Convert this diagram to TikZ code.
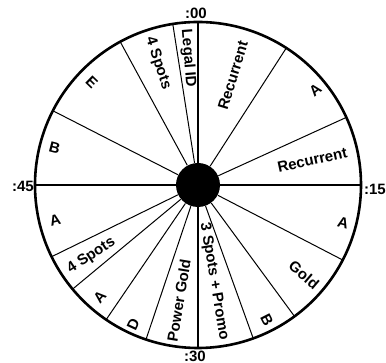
\documentclass[tikz,border=0pt]{standalone}
\usepackage{fontspec}
\setmainfont{Liberation Sans}
\begin{document}
\begin{tikzpicture}[
        x=0.5pt, y=0.5pt,
        l/.style={font=\fontsize{7.5}{8}\selectfont\bfseries, inner sep=0pt},
        m/.style={font=\fontsize{7.5}{8}\selectfont\bfseries, inner sep=0pt},
        q/.style={line width=1.3pt},
        r/.style={line width=0.5pt}
    ]
    \useasboundingbox (-198,-178) rectangle (188,185);

    % clock face
    \draw[q] (0,0) circle (163);
    \node[circle,fill=black,minimum size=22pt,inner sep=0pt] (hub) at (0,0) {};

    \coordinate (n) at (90:163);
    \coordinate (e) at (0:163);
    \coordinate (s) at (270:163);
    \coordinate (w) at (180:163);

    \coordinate (c1) at (57.2:163);
    \coordinate (c2) at (24.5:163);
    \coordinate (c3) at (-27.4:163);
    \coordinate (c4) at (-53.7:163);
    \coordinate (c5) at (-70.2:163);
    \coordinate (c6) at (251.4:163);
    \coordinate (c7) at (235.7:163);
    \coordinate (c8) at (219.7:163);
    \coordinate (c9) at (206.1:163);
    \coordinate (c10) at (152.9:163);
    \coordinate (c11) at (118.5:163);
    \coordinate (c12) at (98.9:163);

    \draw[q]
        (hub) -- (n)
        (hub) -- (e)
        (hub) -- (s)
        (hub) -- (w)
        ;
    \draw[r]
        (hub) -- (c1) (hub) -- (c2) (hub) -- (c3) (hub) -- (c4)
        (hub) -- (c5) (hub) -- (c6) (hub) -- (c7) (hub) -- (c8)
        (hub) -- (c9) (hub) -- (c10) (hub) -- (c11) (hub) -- (c12)
        ;

    % minute marks
    \node[m] (t00) at (-2,172) {:00};
    \node[m] (t15) at (177,-4) {:15};
    \node[m] (t30) at (-3,-171) {:30};
    \node[m] (t45) at (-175,-1) {:45};

    % spots
    \node[l,rotate=-85.5] (legal) at (94.5:127) {Legal ID};
    \node[l,rotate=-71.8] (spotsa) at (108.2:128) {4 Spots};
    \node[l,rotate=73] (recura) at (72.3:115) {Recurrent};
    \node[l,rotate=39] (aa) at (39:151) {A};
    \node[l,rotate=12.4] (recurb) at (12.4:117) {Recurrent};
    \node[l,rotate=-14.7] (ab) at (-14.7:150) {A};
    \node[l,rotate=-40.3] (gold) at (-40.3:139) {Gold};
    \node[l,rotate=-63] (ba) at (-63:152) {B};
    \node[l,rotate=-80.6] (promo) at (-80.6:98) {3 Spots + Promo};
    \node[l,rotate=80.6] (power) at (260.6:117) {Power Gold};
    \node[l,rotate=65] (d) at (245.1:154) {D};
    \node[l,rotate=48.8] (ac) at (228.8:149) {A};
    \node[l,rotate=33.6] (spotsb) at (213.6:128) {4 Spots};
    \node[l,rotate=13.8] (ad) at (193.8:147) {A};
    \node[l,rotate=-14.5] (bb) at (165.5:148) {B};
    \node[l,rotate=-44.2] (ee) at (135.8:148) {E};

\end{tikzpicture}
\end{document}
